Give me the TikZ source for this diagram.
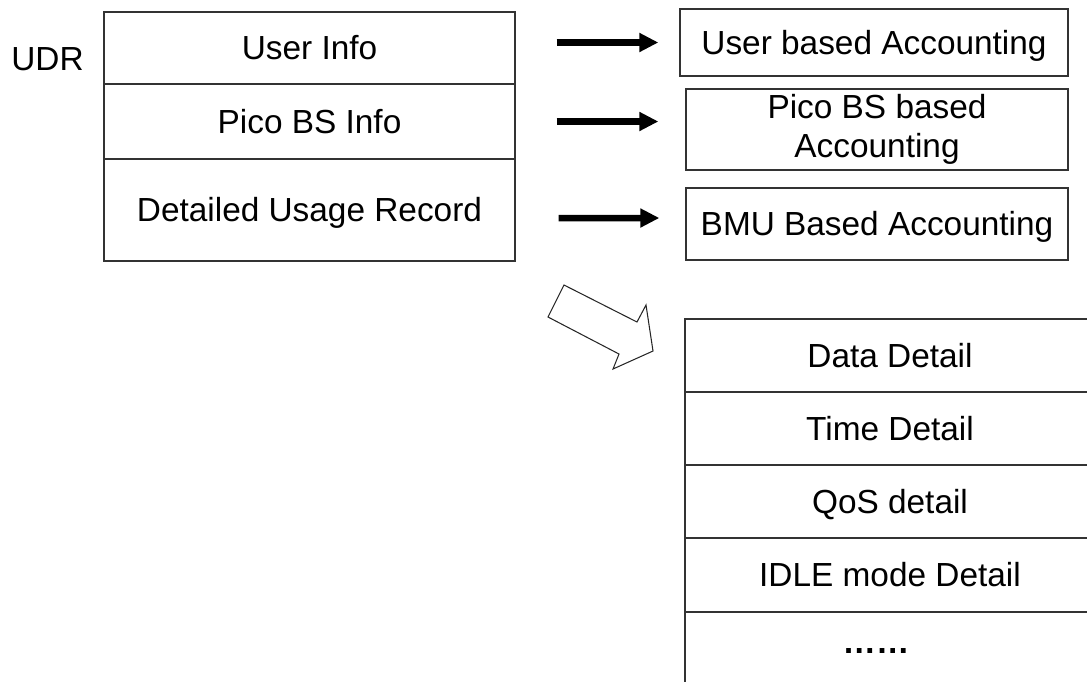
\documentclass[tikz,border=0pt]{standalone}
\usepackage{fontspec}
\setmainfont{Liberation Sans}
\usetikzlibrary{arrows.meta}

\begin{document}
\begin{tikzpicture}[
  x=0.02cm, y=-0.02cm,
  font=\fontsize{19}{22}\selectfont,
  txt/.style={inner sep=0pt,text height=13.6pt,text depth=0pt},
  cell/.style={txt,draw=black!80,line width=0.8pt},
  acc/.style={draw=black!80,line width=0.8pt,inner sep=0pt,align=center},
  fat/.style={line width=0.13cm,-{Triangle[length=0.38cm,width=0.36cm]}},
  hollow/.style={draw=black!85,line width=0.6pt,line join=miter},
]
  \clip (0,0) rectangle (1087,681);

  % UDR record
  \node[txt] (udr) at (47.5,58.5) {UDR};
  \node[cell,minimum width=8.22cm,minimum height=1.44cm] (ui) at (309.5,48) {User Info};
  \node[cell,minimum width=8.22cm,minimum height=1.5cm] (pbi) at (309.5,121.5) {Pico BS Info};
  \node[cell,minimum width=8.22cm,minimum height=2.04cm] (dur) at (309.5,210) {Detailed Usage Record};

  % accounting kinds
  \node[cell,minimum width=7.76cm,minimum height=1.34cm] (uba) at (874,42.5) {User based Accounting};
  \node[acc,minimum width=7.64cm,minimum height=1.62cm] (pba) at (877,129.5) {Pico BS based\\Accounting};
  \node[cell,minimum width=7.64cm,minimum height=1.44cm] (bmu) at (877,224) {BMU Based Accounting};

  \draw[fat] ([xshift=0.82cm]ui.east |- uba.west) -- ([xshift=-0.42cm]uba.west);
  \draw[fat] ([xshift=0.82cm]pbi.east) -- ([xshift=-0.54cm]pbi.east -| pba.west);
  \draw[fat] ([xshift=0.86cm,yshift=-0.16cm]dur.east) -- ([xshift=-0.52cm,yshift=0.12cm]bmu.west);

  % block arrow
  \draw[hollow] (564,285) -- (637,322) -- (646,305) -- (653,351) -- (613,369) -- (619,354) -- (548,317) -- cycle;

  % detailed usage record
  \foreach \name/\y/\txt in {dd/355.5/Data Detail, td/428.5/Time Detail, qd/501.5/QoS detail, id/575/IDLE mode Detail}
    \node[cell,minimum width=8.2cm,minimum height=1.46cm] (\name) at (890,\y) {\txt};
  \node[cell,minimum width=8.2cm,minimum height=1.76cm] (more) at (890,656) {};
  \node[txt,font=\bfseries\fontsize{19}{22}\selectfont] (dots) at ([xshift=-0.28cm,yshift=-0.6cm]more.north) {……};
\end{tikzpicture}
\end{document}
